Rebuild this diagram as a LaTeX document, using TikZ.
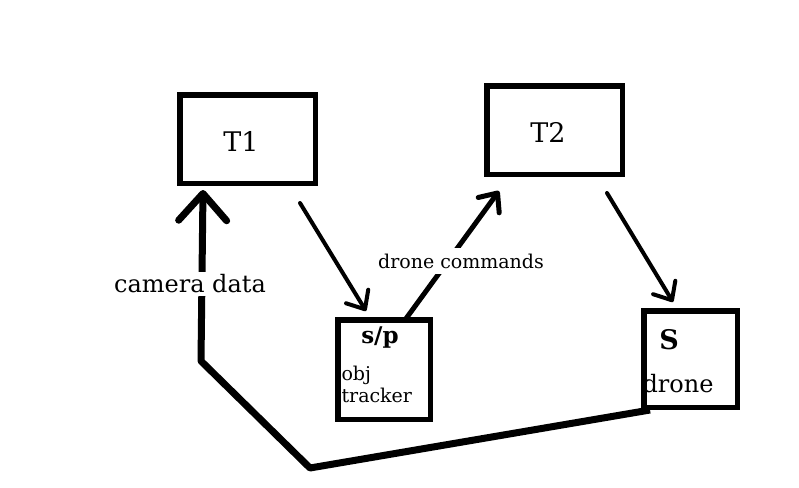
\documentclass[tikz,border=0pt]{standalone}
\usepackage{fontspec}
\setmainfont{DejaVu Serif}
\usetikzlibrary{arrows.meta}
\begin{document}
\begin{tikzpicture}[x=1pt,y=-1pt,
  box/.style={draw,line width=5.5pt,inner sep=0pt,outer sep=0pt},
  thinarrow/.style={line width=4pt,line cap=round,line join=round,
    -{Straight Barb[length=15pt,width=26pt,line cap=round,line join=round]}},
  bigarrow/.style={line width=7pt,line join=round,
    -{Straight Barb[length=27pt,width=48pt,line cap=round,line join=round]}},
  lbl/.style={fill=white,inner sep=4pt}]
\useasboundingbox (0,0) rectangle (799,487);
% boxes
\node[box,minimum width=135.5pt,minimum height=88.5pt] (T1) at (247.5,139) {};
\node[font=\fontsize{27}{30}\selectfont] (T1t) at (241,141) {T1};
\node[box,minimum width=135.5pt,minimum height=88.5pt] (T2) at (554.5,130) {};
\node[font=\fontsize{27}{30}\selectfont] (T2t) at (548,132) {T2};
\node[box,minimum width=92.5pt,minimum height=99.5pt] (sp) at (384,369.5) {};
\node[font=\fontsize{23}{26}\selectfont\bfseries] (spt) at (380,338) {s/p};
\node[font=\fontsize{19}{22}\selectfont,anchor=west,align=left] (obj) at (338,384) {obj\\tracker};
\node[box,minimum width=93.5pt,minimum height=96.5pt] (dr) at (690.5,359) {};
\node[font=\fontsize{27}{30}\selectfont\bfseries] (drS) at (669,340) {S};
\node[font=\fontsize{24}{27}\selectfont] (drt) at (678,384) {drone};
% coordinates
\coordinate (d0) at (650,410);
\coordinate (c1) at (310,468);
\coordinate (c2) at (201,361);
\coordinate (t1in) at (203,190);
\coordinate (a1s) at (300,203);
\coordinate (a1e) at (366,311);
\coordinate (a2s) at (405,320);
\coordinate (a2e) at (499,191);
\coordinate (a3s) at (607,193);
\coordinate (a3e) at (673,302);
% connectors
\draw[bigarrow] (d0) -- (c1) -- (c2) -- (t1in);
\node[lbl,font=\fontsize{24}{27}\selectfont,inner ysep=3pt] (cam) at (190,284) {camera data};
\draw[thinarrow] (a1s) -- (a1e);
\draw[thinarrow,line width=5pt] (a2s) -- (a2e);
\node[lbl,font=\fontsize{19}{22}\selectfont,inner ysep=6pt] (cmd) at (461,261) {drone commands};
\draw[thinarrow] (a3s) -- (a3e);
\end{tikzpicture}
\end{document}
